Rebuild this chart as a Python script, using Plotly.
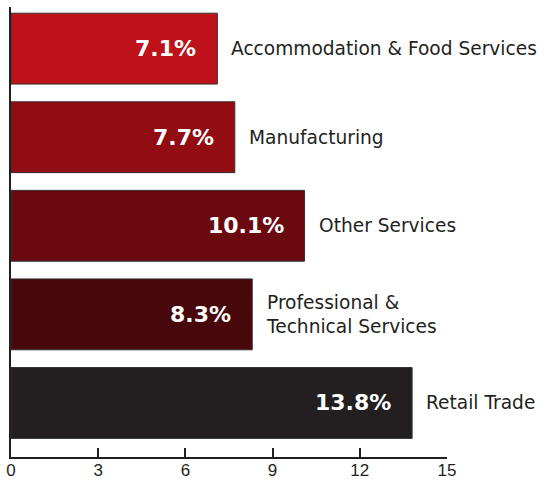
import plotly.graph_objects as go

# Share of businesses by industry (%)
categories = [
    "Accommodation & Food Services",
    "Manufacturing",
    "Other Services",
    "Professional &<br>Technical Services",
    "Retail Trade",
]
values = [7.1, 7.7, 10.1, 8.3, 13.8]
bar_colors = ["#BE111A", "#920C13", "#6B0910", "#48070A", "#231F20"]
tick_values = [0, 3, 6, 9, 12, 15]

ink = "#231F20"
positions = list(range(len(categories)))

fig = go.Figure(
    go.Bar(
        x=values,
        y=positions,
        orientation="h",
        width=0.8,
        marker=dict(color=bar_colors, line=dict(color="#333333", width=1)),
        hoverinfo="skip",
    )
)

annotations = []
for pos, val, name in zip(positions, values, categories):
    # value printed inside the bar, right-aligned near its end
    annotations.append(dict(
        x=val, y=pos, xref="x", yref="y",
        text=f"<b>{val:.1f}%</b>", showarrow=False,
        xanchor="right", yanchor="middle", xshift=-19,
        font=dict(family="DejaVu Sans", size=22, color="white"),
    ))
    # industry name to the right of the bar
    annotations.append(dict(
        x=val, y=pos, xref="x", yref="y",
        text=name, showarrow=False, align="left",
        xanchor="left", yanchor="middle", xshift=12,
        font=dict(family="DejaVu Sans", size=18.6, color=ink),
    ))

fig.update_layout(
    width=550,
    height=481,
    margin=dict(l=11, r=103, t=7, b=24),
    paper_bgcolor="white",
    plot_bgcolor="white",
    showlegend=False,
    annotations=annotations,
    xaxis=dict(
        range=[0, 15],
        tickvals=tick_values,
        ticks="inside",
        ticklen=9,
        tickwidth=2,
        tickcolor=ink,
        showline=True,
        linecolor=ink,
        linewidth=2,
        showgrid=False,
        zeroline=False,
        automargin=False,
        ticklabelstandoff=-3,
        tickfont=dict(family="Liberation Sans", size=17, color=ink),
    ),
    yaxis=dict(
        range=[4.61, -0.47],
        showticklabels=False,
        ticks="",
        showline=True,
        linecolor=ink,
        linewidth=2,
        showgrid=False,
        zeroline=False,
        automargin=False,
    ),
)

fig.write_html("out.html")
